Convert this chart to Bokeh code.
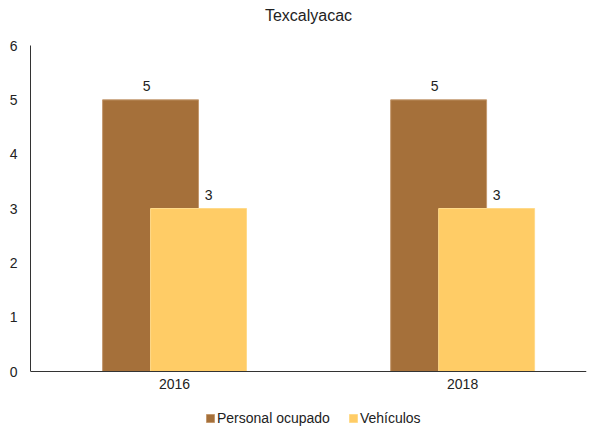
from bokeh.plotting import figure
from bokeh.models import (ColumnDataSource, Legend, LegendItem, FixedTicker,
                          Range1d, Title, Span)
from bokeh.embed import file_html
from bokeh.resources import INLINE
from bokeh.core.properties import value

years = ["2016", "2018"]
personal_ocupado = [5, 5]
vehiculos = [3, 3]
y_ticks = [0, 1, 2, 3, 4, 5, 6]
title_text = "Texcalyacac"

FONT = "Liberation Sans"
FS = "14px"
TXT = "#222222"
BROWN = "#A5703A"
YELLOW = "#FFCC66"

idx = list(range(len(years)))
off = 0.0833
bw = 0.333

src_p = ColumnDataSource(dict(x=[i - off for i in idx], top=personal_ocupado,
                              lab=[str(v) for v in personal_ocupado]))
src_v = ColumnDataSource(dict(x=[i + off for i in idx], top=vehiculos,
                              lab=[str(v) for v in vehiculos]))
src_x = ColumnDataSource(dict(x=idx, y=[0] * len(idx), lab=years))

p = figure(width=600, height=426, output_backend="svg", toolbar_location=None,
           x_range=Range1d(-0.5, 1.43), y_range=Range1d(-1.012, 6),
           x_axis_location=None,
           min_border_left=30, min_border_right=14, min_border_top=45,
           min_border_bottom=0, title=None)
p.frame_width = 556
p.frame_height = 381

# spacer first (nearest the frame), then the visible title above it
p.add_layout(Title(text=" ", text_font_size="1px", standoff=19), "above")
p.add_layout(Title(text=title_text, align="center", text_font=FONT,
                   text_font_size="16px", text_font_style="normal",
                   text_color=TXT, standoff=0), "above")

r1 = p.vbar(x="x", top="top", bottom=0, width=bw, source=src_p, fill_color=BROWN,
            line_color="#C49A70", line_width=1)
r2 = p.vbar(x="x", top="top", bottom=0, width=bw, source=src_v, fill_color=YELLOW,
            line_color="#FFDA8A", line_width=1)

for src, dx in ((src_p, -4), (src_v, 10)):
    p.text(x="x", y="top", text="lab", source=src, text_align="center",
           text_baseline="bottom", x_offset=dx, y_offset=-9, text_font=value(FONT),
           text_font_size=FS, text_color=TXT)

# category labels under the baseline
p.text(x="x", y="y", text="lab", source=src_x, text_align="center",
       text_baseline="top", y_offset=7, text_font=value(FONT),
       text_font_size=FS, text_color=TXT)

p.add_layout(Span(location=0, dimension="width", line_color="#333333",
                  line_width=1))

p.xgrid.visible = False
p.ygrid.visible = False
p.outline_line_color = None

p.yaxis.ticker = FixedTicker(ticks=y_ticks)
p.yaxis.bounds = (0, 6)
p.yaxis.major_tick_line_color = None
p.yaxis.minor_tick_line_color = None
p.yaxis.axis_line_color = "#333333"
p.yaxis.major_label_text_font = FONT
p.yaxis.major_label_text_font_size = FS
p.yaxis.major_label_text_color = TXT
p.yaxis.major_label_standoff = 7

legend = Legend(items=[LegendItem(label="Personal ocupado", renderers=[r1]),
                       LegendItem(label="Vehículos", renderers=[r2])],
                orientation="horizontal", location=(175, 0),
                label_text_font=FONT, label_text_font_size=FS,
                label_text_color=TXT, glyph_width=10, glyph_height=10,
                label_standoff=2, spacing=18, padding=2, margin=0,
                border_line_color=None, background_fill_alpha=0)
p.add_layout(legend, "center")

open("out.html", "w").write(file_html(p, INLINE))
